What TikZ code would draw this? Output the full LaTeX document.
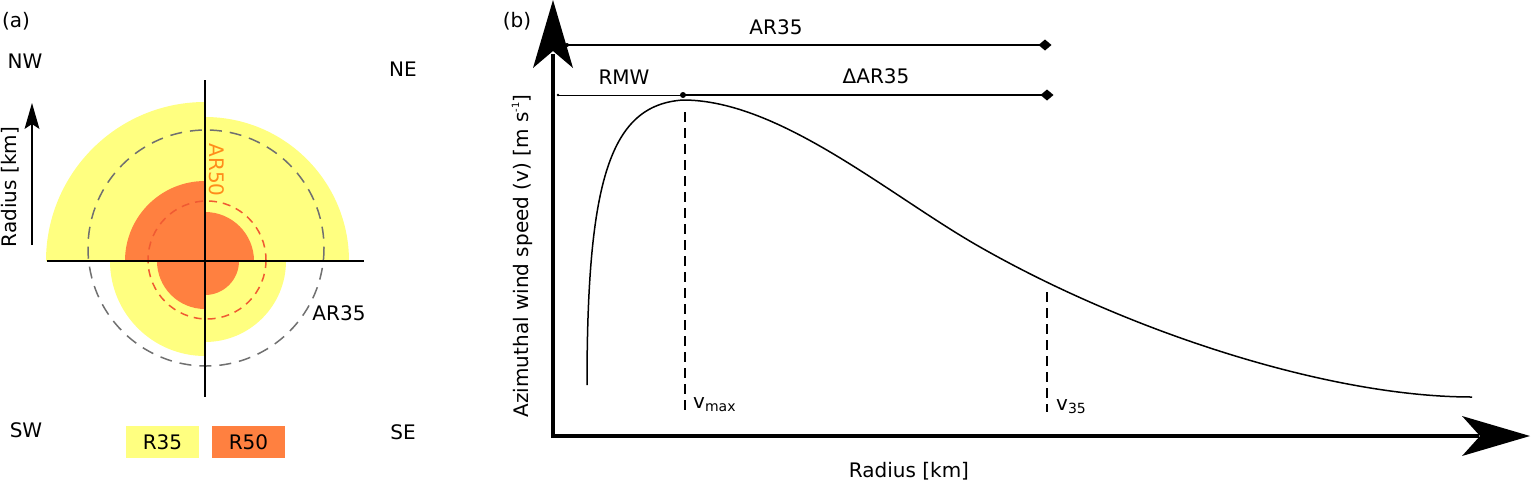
\documentclass[tikz,border=0pt]{standalone}
\usepackage{fontspec}
\setmainfont{DejaVu Sans}
\usetikzlibrary{arrows.meta}
\definecolor{yel}{HTML}{FFFF80}
\definecolor{org}{HTML}{FF8040}
\definecolor{dgray}{HTML}{707070}
\definecolor{rdash}{HTML}{F05A32}
\definecolor{artxt}{HTML}{FF8C1A}
\newcommand{\lowsub}[1]{\raisebox{-3pt}{\fontsize{14}{14}\selectfont #1}}
\newcommand{\hisup}[1]{\raisebox{9pt}{\fontsize{10}{10}\selectfont #1}}
\begin{document}
\begin{tikzpicture}[x=1pt,y=-1pt,
  font=\fontsize{20}{24}\selectfont,
  lbl/.style={inner sep=0pt},
  legbox/.style={inner sep=0pt, minimum width=73pt, minimum height=32pt},
  thinaxis/.style={line width=1.6pt},
  bigaxis/.style={line width=4pt},
  graydash/.style={dgray, line width=1.5pt, dash pattern=on 12pt off 8pt},
  reddash/.style={rdash, line width=1.5pt, dash pattern=on 8pt off 6pt},
  vdash/.style={line width=1.5pt, dash pattern=on 10pt off 6pt},
  dimline/.style={line width=2pt},
  dimthin/.style={line width=1pt},
  curve/.style={line width=1.5pt}]
\useasboundingbox (0,0) rectangle (1531,485);

% ---------------- panel (a) ----------------
\coordinate (C) at (205,261);
\fill[yel] (C) -- ++(-159,0) arc[start angle=180,end angle=270,radius=159] -- cycle;
\fill[yel] (C) -- ++(0,-144) arc[start angle=270,end angle=360,radius=144] -- cycle;
\fill[yel] (C) -- ++(81,0) arc[start angle=0,end angle=90,radius=81] -- cycle;
\fill[yel] (C) -- ++(0,95) arc[start angle=90,end angle=180,radius=95] -- cycle;
\fill[org] (C) -- ++(-80,0) arc[start angle=180,end angle=270,radius=80] -- cycle;
\fill[org] (C) -- ++(0,-49) arc[start angle=270,end angle=360,radius=49] -- cycle;
\fill[org] (C) -- ++(34,0) arc[start angle=0,end angle=90,radius=34] -- cycle;
\fill[org] (C) -- ++(0,48) arc[start angle=90,end angle=180,radius=48] -- cycle;

\draw[graydash] (206,248) circle[radius=118];
\draw[reddash] (207,260) circle[radius=59];

\coordinate (aTop) at (205,80);
\coordinate (aBot) at (205,397);
\coordinate (aLeft) at (47,261);
\coordinate (aRight) at (364,261);
\draw[thinaxis] (aTop) -- (aBot);
\draw[thinaxis] (aLeft) -- (aRight);

\node[lbl, text=artxt, rotate=-90] (ar50) at (217,170) {AR50};
\node[lbl] (ar35a) at (339,313) {AR35};

% radius arrow
\coordinate (rA) at (32,245);
\coordinate (rB) at (32,124);
\draw[line width=2pt] (rA) -- (rB);
\fill (32,103) -- (39.5,129) -- (32,124) -- (24.5,129) -- cycle;
\node[lbl, rotate=90] (radA) at (10,187) {Radius [km]};

\node[lbl] (pa) at (16,21) {(a)};
\node[lbl] (nw) at (25,61) {NW};
\node[lbl] (ne) at (403,69) {NE};
\node[lbl] (sw) at (26,430) {SW};
\node[lbl] (se) at (403,432) {SE};

\node[legbox, fill=yel] (r35) at (162.5,442) {R35};
\node[legbox, fill=org] (r50) at (248.5,442) {R50};

% ---------------- panel (b) ----------------
\node[lbl] (pb) at (517,21) {(b)};
\coordinate (O) at (553,436);
\coordinate (yEnd) at (553,54);
\coordinate (xEnd) at (1479,436);
\draw[bigaxis] (553,438) -- (yEnd);
\draw[bigaxis] (551,436) -- (xEnd);
\fill (553,0) -- (573,68) -- (553,51) -- (533,68) -- cycle;
\fill (1530,436) -- (1462,456) -- (1480,436) -- (1462,416) -- cycle;

\node[lbl, rotate=90] (ylab) at (522,256) {Azimuthal wind speed (v) [m s\hisup{-1}]};
\node[lbl] (xlab) at (909,471) {Radius [km]};

% profile curve
\coordinate (cStart) at (587,385);
\coordinate (cPeak) at (683,100);
\coordinate (cMid) at (980,247);
\coordinate (cEnd) at (1472,397);
\draw[curve] (cStart) .. controls (587,180) and (610,105) .. (cPeak)
  .. controls (780,100) and (890,196) .. (cMid)
  .. controls (1130,332.5) and (1330,397) .. (cEnd);

% dashed markers
\coordinate (vmT) at (685,112);
\coordinate (vmB) at (685,414);
\coordinate (v35T) at (1047,292);
\coordinate (v35B) at (1047,412);
\draw[vdash] (vmT) -- (vmB);
\draw[vdash] (v35T) -- (v35B);
\node[lbl, anchor=base west] (vmax) at (693,408) {v\lowsub{max}};
\node[lbl, anchor=base west] (v35) at (1056,410) {v\lowsub{35}};

% dimension lines
\coordinate (d1L) at (567,45);
\coordinate (d1R) at (1045,45);
\coordinate (d2L) at (558,95);
\coordinate (d2M) at (683,95);
\coordinate (d2R) at (1047,95);
\draw[dimline] (d1L) -- (d1R);
\draw[dimthin] (d2L) -- (d2M);
\draw[dimline] (d2M) -- (d2R);
\fill (d1L) circle[radius=2];
\fill (d2L) circle[radius=1.3];
\fill (d2M) circle[radius=3];
\fill (1038.5,45) -- (1045,39.5) -- (1051.5,45) -- (1045,50.5) -- cycle;
\fill (1040.5,95) -- (1047,89.5) -- (1053.5,95) -- (1047,100.5) -- cycle;

\node[lbl] (ar35b) at (776,27) {AR35};
\node[lbl] (rmw) at (624,77) {RMW};
\node[lbl] (dar35) at (876,76) {ΔAR35};
\end{tikzpicture}
\end{document}
